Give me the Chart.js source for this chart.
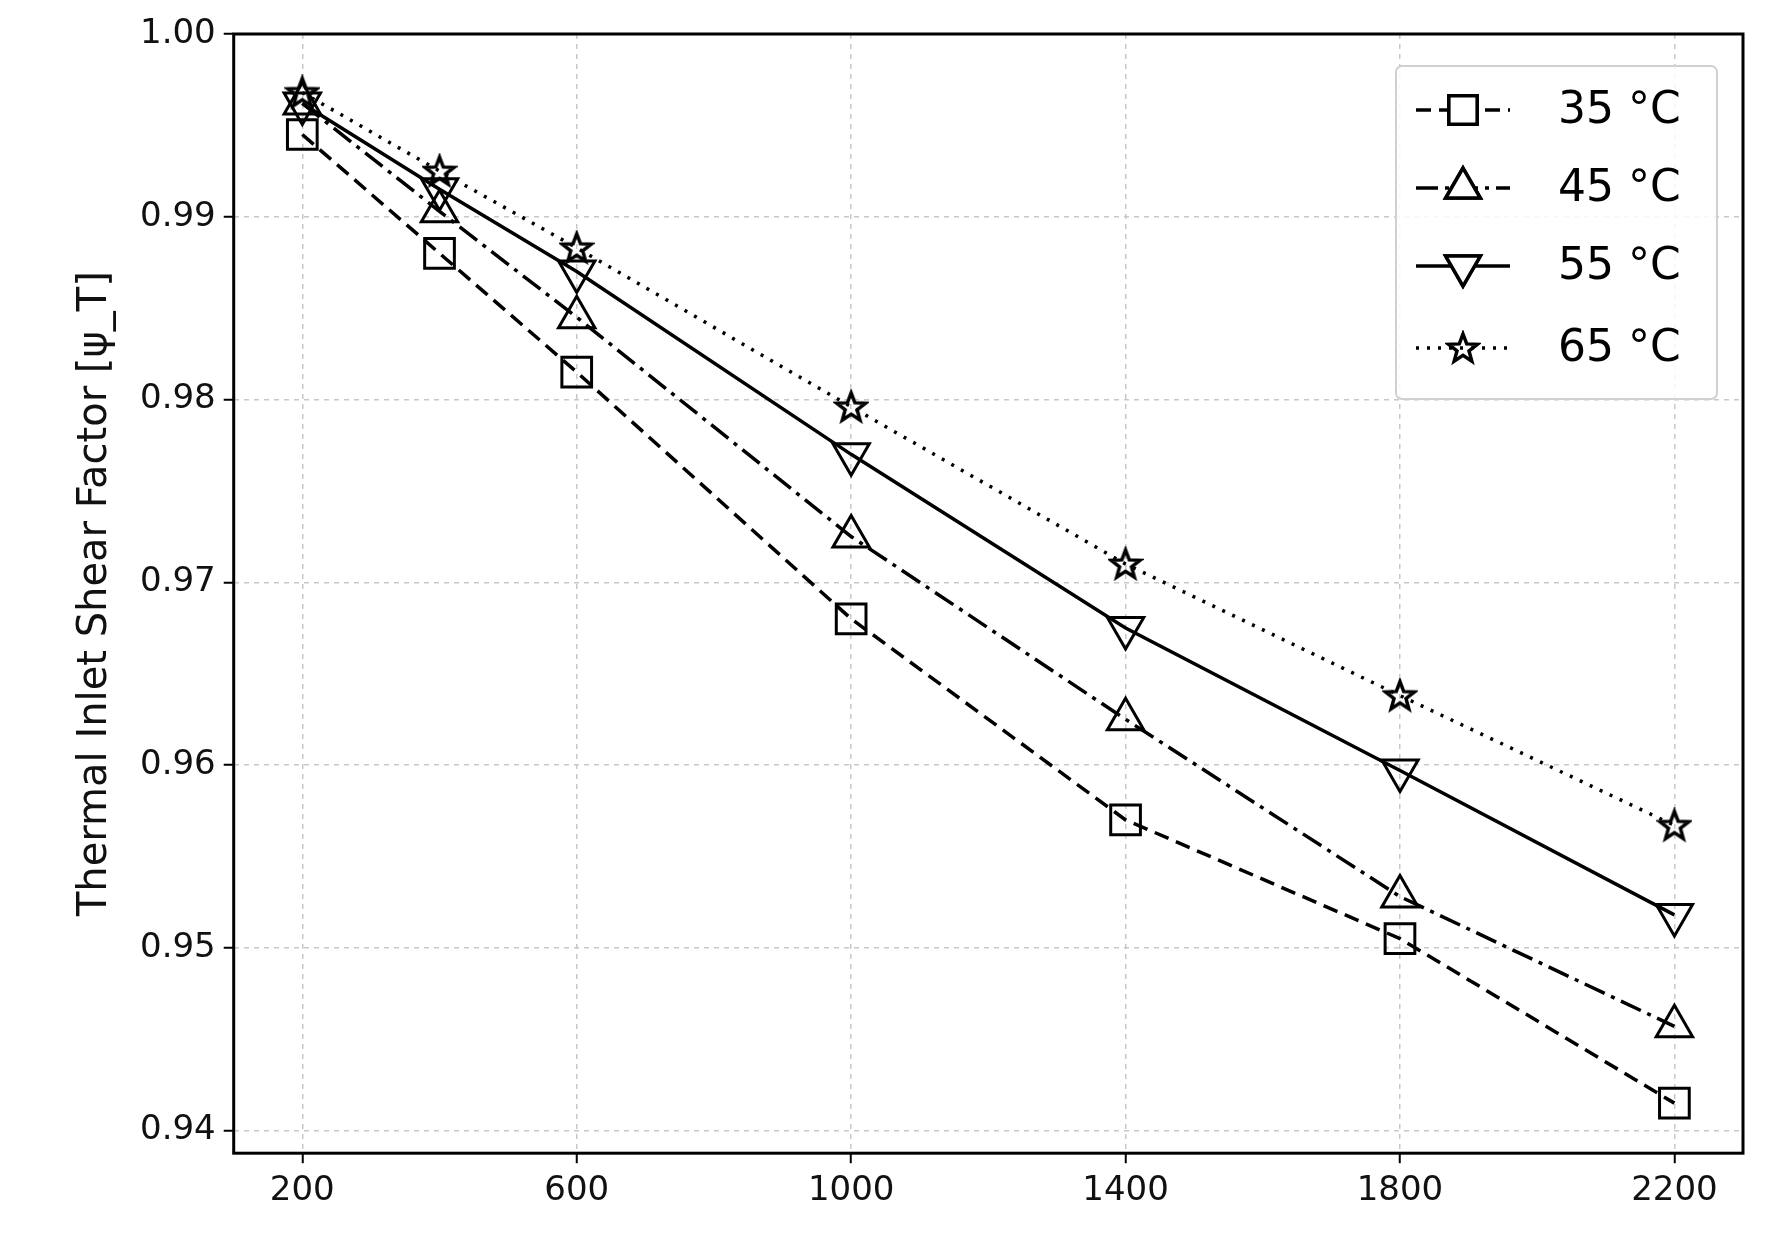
<!DOCTYPE html>
<html>
<head>
<meta charset="utf-8">
<script src="https://cdn.jsdelivr.net/npm/chart.js@4.4.1/dist/chart.umd.min.js"></script>
<style>
  html, body { margin: 0; padding: 0; background: #fff; }
  #wrap { position: relative; width: 1767px; height: 1260px; }
</style>
</head>
<body>
<div id="wrap"><canvas id="c"></canvas></div>
<script>
(function () {
    'use strict';

    var xValues = [200, 400, 600, 1000, 1400, 1800, 2200];
    var xTicks = [200, 600, 1000, 1400, 1800, 2200];
    var yTicks = [0.94, 0.95, 0.96, 0.97, 0.98, 0.99, 1.00];
    var labels = ['35 °C', '45 °C', '55 °C', '65 °C'];
    var t35 = [0.9945, 0.9880, 0.9815, 0.9680, 0.9570, 0.9505, 0.9415];
    var t45 = [0.9962, 0.9903, 0.9845, 0.9725, 0.9625, 0.9528, 0.9457];
    var t55 = [0.9962, 0.9915, 0.9870, 0.9770, 0.9675, 0.9597, 0.9518];
    var t65 = [0.9968, 0.9925, 0.9883, 0.9796, 0.9710, 0.9638, 0.9567];

    var FONT = '"DejaVu Sans", sans-serif';

    // hollow five-point star as an image marker
    function starImage(size) {
        var c = document.createElement('canvas');
        c.width = size; c.height = size;
        var g = c.getContext('2d');
        var cx = size / 2, cy = size / 2 + 1, R = size / 2 - 3, r = R * 0.42;
        g.beginPath();
        for (var i = 0; i < 10; i++) {
            var rad = i % 2 ? r : R;
            var a = -Math.PI / 2 + i * Math.PI / 5;
            g.lineTo(cx + rad * Math.cos(a), cy + rad * Math.sin(a));
        }
        g.closePath();
        g.lineWidth = 3.5;
        g.strokeStyle = '#000';
        g.stroke();
        return c;
    }
    var star = starImage(36);

    function pts(arr) {
        return arr.map(function (v, i) { return { x: xValues[i], y: v }; });
    }

    function ds(label, data, dash, style, radius, rot) {
        return {
            label: label,
            data: pts(data),
            showLine: true,
            borderColor: '#000',
            borderWidth: 3.5,
            borderDash: dash,
            pointStyle: style,
            pointRadius: radius,
            pointRotation: rot || 0,
            pointBorderWidth: 3,
            pointBorderColor: '#000',
            pointBackgroundColor: 'rgba(0,0,0,0)'
        };
    }

    var datasets = [
        ds(labels[0], t35, [15, 8], 'rect', 21),
        ds(labels[1], t45, [22, 7, 4, 7], 'triangle', 21),
        ds(labels[2], t55, [], 'triangle', 21, 180),
        ds(labels[3], t65, [3, 8], star, 18)
    ];

    // frame + legend box
    var framePlugin = {
        id: 'frame',
        afterDraw: function (chart) {
            var ctx = chart.ctx, a = chart.chartArea;
            ctx.save();
            ctx.strokeStyle = '#000';
            ctx.lineWidth = 3;
            ctx.strokeRect(a.left, a.top, a.right - a.left, a.bottom - a.top);

            // legend
            var bx = 1396, by = 66, bw = 321, bh = 333;
            ctx.fillStyle = 'rgba(255,255,255,0.85)';
            ctx.strokeStyle = '#d0d0d0';
            ctx.lineWidth = 2;
            ctx.beginPath();
            ctx.roundRect(bx, by, bw, bh, 6);
            ctx.fill();
            ctx.stroke();
            var rows = [110, 188, 266, 348];
            chart.data.datasets.forEach(function (d, i) {
                var y = rows[i];
                ctx.strokeStyle = '#000';
                ctx.lineWidth = 3.5;
                ctx.setLineDash(d.borderDash);
                ctx.beginPath();
                ctx.moveTo(1416, y);
                ctx.lineTo(1510, y);
                ctx.stroke();
                ctx.setLineDash([]);
                if (d.pointStyle === star) {
                    ctx.drawImage(star, 1463 - 18, y - 18);
                } else {
                    ctx.fillStyle = '#fff';
                    Chart.helpers.drawPoint(ctx, {
                        pointStyle: d.pointStyle, radius: 20, rotation: d.pointRotation,
                        borderWidth: 3
                    }, 1463, y);
                    ctx.fill();
                    ctx.stroke();
                }
                ctx.fillStyle = '#000';
                ctx.font = '44px ' + FONT;
                ctx.textBaseline = 'middle';
                ctx.fillText(d.label, 1558, y + 2);
            });
            ctx.restore();
        }
    };

    new Chart(document.getElementById('c'), {
        type: 'scatter',
        data: { datasets: datasets },
        plugins: [framePlugin],
        options: {
            responsive: true,
            maintainAspectRatio: false,
            animation: false,
            layout: { padding: { left: 68, right: 17, top: 34, bottom: 40 } },
            plugins: { legend: { display: false }, tooltip: { enabled: false } },
            scales: {
                x: {
                    type: 'linear', min: 100, max: 2300,
                    afterBuildTicks: function (s) { s.ticks = xTicks.map(function (v) { return { value: v }; }); },
                    grid: { color: '#c8c8c8', lineWidth: 1.5, tickColor: '#000', tickLength: 10, tickWidth: 2 },
                    border: { display: true, dash: [5, 5], color: '#000' },
                    ticks: {
                        color: '#111', font: { family: FONT, size: 34 }, padding: 8,
                        callback: function (v) { return String(v); }
                    }
                },
                y: {
                    type: 'linear', min: 0.93876, max: 1.0,
                    afterBuildTicks: function (s) { s.ticks = yTicks.map(function (v) { return { value: v }; }); },
                    grid: { color: '#c8c8c8', lineWidth: 1.5, tickColor: '#000', tickLength: 10, tickWidth: 2 },
                    border: { display: true, dash: [5, 5], color: '#000' },
                    ticks: {
                        color: '#111', font: { family: FONT, size: 34 }, padding: 8,
                        callback: function (v) { return v.toFixed(2); }
                    },
                    title: {
                        display: true, text: 'Thermal Inlet Shear Factor [\u03c8_T]',
                        color: '#111', font: { family: FONT, size: 40 }, padding: { bottom: 12 }
                    }
                }
            }
        }
    });
})();
</script>
</body>
</html>
